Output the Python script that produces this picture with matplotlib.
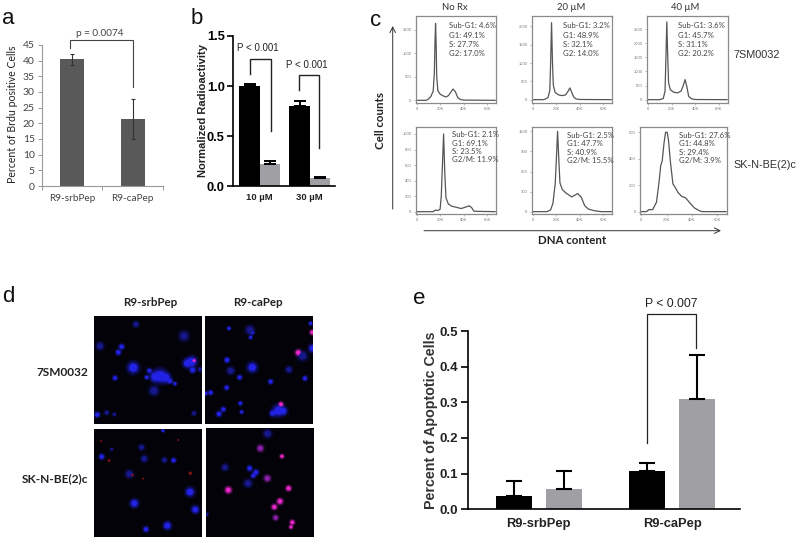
import matplotlib
matplotlib.use("Agg")
import matplotlib.pyplot as plt

W, H = 798, 541
plt.rcParams['font.family'] = ['Liberation Sans', 'DejaVu Sans']
fig = plt.figure(figsize=(W / 100, H / 100), dpi=100)

# ---------- data ----------
a_labels = ['R9-srbPep', 'R9-caPep']
a_values = [40.4, 21.4]
a_err_low = [1.8, 6.4]
a_err_high = [1.6, 6.4]
a_ticks = list(range(0, 50, 5))

b_labels = ['10 µM', '30 µM']
b_black = [1.0, 0.80]
b_black_err = [0.02, 0.05]
b_gray = [0.22, 0.085]
b_gray_err = [0.03, 0.01]
b_ticks = [0.0, 0.5, 1.0, 1.5]

e_labels = ['R9-srbPep', 'R9-caPep']
e_black = [0.037, 0.107]
e_black_err = [0.041, 0.023]
e_gray = [0.056, 0.309]
e_gray_err = [0.051, 0.123]
e_ticks = [0.0, 0.1, 0.2, 0.3, 0.4, 0.5]

c_titles = ['No Rx', '20 µM', '40 µM']
c_rows = ['7SM0032', 'SK-N-BE(2)c']
c_xticks = [0, 20, 40, 60]
c_xticklabels = ['0', '20K', '40K', '60K']

h11_x = [0, 8, 10, 12, 14, 15, 15.5, 16, 16.5, 17, 18, 20, 22, 25, 27, 29, 31, 33, 35, 37, 40, 67]
h11_y = [0, 0, 30, 80, 200, 600, 1200, 1630, 1200, 500, 200, 130, 100, 70, 100, 170, 240, 180, 60, 20, 5, 0]
h12_x = [0, 9, 11, 13, 14.5, 15.2, 16, 16.8, 17.5, 19, 22, 25, 28, 30, 31.7, 33, 35, 37, 40, 67]
h12_y = [0, 0, 20, 60, 250, 1000, 2100, 1000, 400, 200, 130, 110, 130, 220, 320, 220, 70, 20, 5, 0]
h13_x = [0, 10, 13, 14.5, 15.2, 16, 16.8, 17.5, 19, 22, 25, 28, 29.5, 31.5, 33, 34.5, 37, 40, 67]
h13_y = [0, 0, 40, 300, 1400, 2750, 1500, 600, 350, 260, 240, 300, 450, 710, 450, 120, 30, 5, 0]
h21_x = [0, 14, 16, 18, 20, 21, 22, 23, 24, 25, 27, 30, 33, 38, 42, 45, 47, 49, 67]
h21_y = [0, 0, 20, 15, 30, 200, 600, 1000, 500, 180, 100, 70, 60, 40, 60, 75, 50, 5, 0]
h22_x = [0, 12, 15, 17, 19, 20, 21, 22, 23, 25, 28, 33, 36, 38, 41, 44, 47, 52, 58, 67]
h22_y = [0, 0, 25, 120, 420, 800, 1200, 800, 430, 330, 280, 220, 250, 270, 220, 90, 40, 15, 0, 0]
h23_x = [0, 4, 6, 9, 12, 14, 15.4, 16.5, 18, 19.2, 20.5, 21.5, 23, 25, 26, 27, 29, 32, 35, 38, 42, 46, 48, 67]
h23_y = [0, 0, 15, 15, 70, 220, 350, 380, 520, 600, 600, 540, 380, 210, 195, 180, 145, 115, 105, 70, 28, 6, 0, 0]

hist_x = [[h11_x, h12_x, h13_x], [h21_x, h22_x, h23_x]]
hist_y = [[h11_y, h12_y, h13_y], [h21_y, h22_y, h23_y]]
hist_text = [
    [['Sub-G1: 4.6%', 'G1: 49.1%', 'S: 27.7%', 'G2: 17.0%'],
     ['Sub-G1: 3.2%', 'G1: 48.9%', 'S: 32.1%', 'G2: 14.0%'],
     ['Sub-G1: 3.6%', 'G1: 45.7%', 'S: 31.1%', 'G2: 20.2%']],
    [['Sub-G1: 2.1%', 'G1: 69.1%', 'S: 23.5%', 'G2/M: 11.9%'],
     ['Sub-G1: 2.5%', 'G1: 47.7%', 'S: 40.9%', 'G2/M: 15.5%'],
     ['Sub-G1: 27.6%', 'G1: 44.8%', 'S: 29.4%', 'G2/M: 3.9%']],
]
hist_yticks = [
    [[0, 500, 1000, 1500], [0, 500, 1000, 1500, 2000], [0, 500, 1000, 1500, 2000, 2500]],
    [[0, 200, 400, 600, 800, 1000], [0, 300, 600, 900, 1200], [0, 200, 400, 600]],
]
hist_ylim = [
    [(-57, 1790), (-91, 2282), (-118, 2960)],
    [(-30, 1090), (-35, 1265), (-18, 640)],
]

d_cols = ['R9-srbPep', 'R9-caPep']
d_rows = ['7SM0032', 'SK-N-BE(2)c']
# spots: x, y, size, colour key (read in picture units of each micrograph)
d_p1 = [(400, 263, 40, 'b'), (480, 288, 60, 'b'), (465, 290, 30, 'b'), (497, 293, 30, 'b'), (510, 303, 10, 'b'),
        (525, 311, 5, 'b'), (575, 245, 35, 'b'), (562, 250, 25, 'b'), (578, 270, 12, 'b'), (552, 168, 30, 'd'),
        (365, 200, 10, 'b'), (355, 217, 10, 'b'), (345, 294, 8, 'b'), (462, 332, 30, 'd'), (440, 292, 6, 'b'),
        (292, 404, 10, 'b'), (448, 272, 8, 'b'), (600, 268, 8, 'd'), (582, 242, 5, 'm'), (408, 133, 12, 'd'),
        (300, 198, 20, 'd'), (320, 398, 8, 'd'), (343, 403, 5, 'd'), (582, 400, 8, 'd')]
d_p2 = [(687, 145, 5, 'b'), (757, 158, 5, 'b'), (752, 172, 5, 'b'), (681, 240, 10, 'b'), (692, 272, 20, 'd'),
        (757, 262, 30, 'b'), (719, 292, 8, 'b'), (812, 305, 8, 'b'), (680, 323, 8, 'b'), (632, 338, 8, 'b'),
        (617, 340, 6, 'b'), (867, 269, 15, 'd'), (915, 295, 8, 'b'), (895, 218, 12, 'm'), (937, 157, 8, 'm'),
        (938, 205, 20, 'b'), (932, 130, 5, 'b'), (721, 370, 6, 'b'), (725, 396, 5, 'b'), (670, 388, 8, 'b'),
        (657, 402, 10, 'b'), (843, 373, 8, 'm'), (835, 392, 40, 'b'), (850, 393, 20, 'b'), (818, 400, 12, 'b'),
        (750, 150, 25, 'd'), (908, 228, 30, 'd')]
d_p3 = [(305, 530, 10, 'b'), (335, 508, 4, 'd'), (425, 502, 12, 'd'), (433, 536, 15, 'd'), (493, 540, 10, 'd'),
        (521, 541, 8, 'b'), (388, 582, 20, 'd'), (397, 585, 2, 'r'), (571, 580, 3, 'r'), (570, 636, 25, 'b'),
        (403, 670, 22, 'b'), (586, 689, 18, 'b'), (438, 748, 10, 'b'), (502, 737, 20, 'b'), (489, 452, 4, 'b'),
        (327, 542, 2, 'r'), (430, 596, 1, 'r'), (535, 480, 1, 'r'), (303, 483, 1, 'r')]
d_p4 = [(803, 461, 22, 'd'), (781, 505, 15, 'v'), (846, 529, 6, 'm'), (749, 565, 10, 'b'), (768, 577, 10, 'b'),
        (760, 587, 8, 'b'), (802, 595, 15, 'v'), (744, 610, 22, 'd'), (675, 562, 15, 'd'), (685, 630, 14, 'm'),
        (866, 625, 10, 'm'), (840, 664, 12, 'm'), (823, 681, 10, 'm'), (827, 713, 10, 'v'), (877, 727, 8, 'm'),
        (873, 741, 5, 'm'), (620, 703, 5, 'd')]

# ---------- helpers ----------
def axpx(x0, y0, x1, y1, **kw):
    return fig.add_axes([x0 / W, 1 - y1 / H, (x1 - x0) / W, (y1 - y0) / H], **kw)

def T(x, y, s, **kw):
    kw.setdefault('ha', 'center')
    kw.setdefault('va', 'center')
    return fig.text(x / W, 1 - y / H, s, **kw)

over = axpx(0, 0, W, H)
over.set_xlim(0, W)
over.set_ylim(H, 0)
over.axis('off')
over.set_zorder(5)

def bracket(pts, color='#222222', lw=1.0):
    over.plot([p[0] for p in pts], [p[1] for p in pts], color=color, lw=lw, solid_joinstyle='miter')

LATO = ['Lato', 'DejaVu Sans']

# ---------- panel letters ----------
for x, y, s in [(8, 18, 'a'), (197, 18, 'b'), (376, 20, 'c'), (8, 297, 'd'), (419, 298, 'e')]:
    T(x, y, s, fontsize=16, color='#111111')

# ---------- panel a ----------
ax = axpx(41.7, 45, 163, 186)
ax.bar([0.5, 1.5], a_values, width=0.395, color='#595959')
ax.errorbar([0.5, 1.5], a_values, yerr=[a_err_low, a_err_high], fmt='none', ecolor='#333333', elinewidth=0.8, capsize=1.5, capthick=0.8)
ax.set_xlim(0, 2)
ax.set_ylim(0, 45)
ax.set_yticks(a_ticks)
ax.set_xticks([0, 1, 2], minor=False)
ax.set_xticklabels([])
ax.tick_params(axis='both', length=3, width=0.7, color='#999999', labelsize=7.5, labelcolor='#444444', pad=2)
for lab in ax.get_yticklabels():
    lab.set_family(LATO)
for s in ['top', 'right']:
    ax.spines[s].set_visible(False)
for s in ['left', 'bottom']:
    ax.spines[s].set_color('#999999')
    ax.spines[s].set_linewidth(0.8)
ax.patch.set_alpha(0)
for xc, lab in zip([72, 132.7], a_labels):
    T(xc, 198.5, lab, fontsize=7.2, color='#444444', family=LATO)
T(13, 114, 'Percent of Brdu positive Cells', rotation=90, fontsize=7.6, color='#222222', family=LATO)
bracket([(70, 48), (70, 40), (132.7, 40), (132.7, 87)], color='#444444', lw=0.8)
T(99.5, 33, 'p = 0.0074', fontsize=7.2, color='#444444', family=LATO)

# ---------- panel b ----------
ax = axpx(233, 36, 335, 186.3)
xb = [239.3 + 10.3, 289 + 10.5]
xg = [270, 320]
ax.bar(xb, b_black, width=20.5, color='black')
ax.bar(xg, b_gray, width=20.5, color='#a0a0a4')
ax.errorbar(xb, b_black, yerr=[[0, 0], b_black_err], fmt='none', ecolor='black', elinewidth=1.4, capsize=4, capthick=1.4)
ax.errorbar(xg, b_gray, yerr=[[0, 0], b_gray_err], fmt='none', ecolor='black', elinewidth=1.4, capsize=4, capthick=1.4)
ax.set_xlim(233, 335)
ax.set_ylim(0, 1.5)
ax.set_yticks(b_ticks)
ax.set_yticklabels([f'{v:.1f}' for v in b_ticks], fontweight='bold')
ax.set_xticks([])
ax.tick_params(axis='y', length=4, width=1.2, labelsize=9.3, pad=2)
for s in ['top', 'right']:
    ax.spines[s].set_visible(False)
for s in ['left', 'bottom']:
    ax.spines[s].set_linewidth(1.2)
ax.patch.set_alpha(0)
for xc, lab in zip([259.5, 309.5], b_labels):
    T(xc, 197.5, lab, fontsize=6.8, fontweight='bold', color='#222222')
T(202.5, 111, 'Normalized Radioactivity', rotation=90, fontsize=8, fontweight='bold', color='#222222')
bracket([(250, 74), (250, 59), (270.7, 59), (270.7, 131)])
bracket([(298.7, 90), (298.7, 75), (319.3, 75), (319.3, 147.7)])
T(258, 48, 'P < 0.001', fontsize=7, color='#222222')
T(307, 64.7, 'P < 0.001', fontsize=7, color='#222222')

# ---------- panel c ----------
boxes = [
    [(415.7, 16, 495.7, 103), (531.7, 16, 611.7, 103), (646.7, 16, 727.7, 103)],
    [(415.5, 127, 495.7, 214), (531.7, 127, 612.3, 214), (640, 127, 726.7, 214)],
]
text_pos = [
    [(448.7, [25.3, 35, 44.3, 53.7]), (562.7, [25.3, 35, 44.3, 53.7]), (677.7, [25.3, 35, 44.3, 53.7])],
    [(452.3, [134.7, 143, 151.7, 160]), (567, [135.5, 144, 152.3, 160.5]), (679, [135.5, 144, 152.3, 160.5])],
]
for r in range(2):
    for c in range(3):
        ax = axpx(*boxes[r][c])
        ax.plot(hist_x[r][c], hist_y[r][c], color='#555555', lw=0.9)
        ax.set_xlim(-1, 67.5)
        ax.set_ylim(*hist_ylim[r][c])
        ax.set_xticks(c_xticks)
        ax.set_xticklabels(c_xticklabels)
        ax.set_yticks(hist_yticks[r][c])
        ax.tick_params(length=1.5, width=0.4, labelsize=3, labelcolor='#777777', color='#888888', pad=1.5)
        for s in ax.spines.values():
            s.set_color('#8a8a8a')
            s.set_linewidth(0.9)
        tx, tys = text_pos[r][c]
        for ty, line in zip(tys, hist_text[r][c]):
            T(tx, ty, line, ha='left', fontsize=5.6, color='#444444', family=LATO)
for xc, t in zip([455, 571, 685], c_titles):
    T(xc, 8, t, fontsize=6.8, color='#333333', family=LATO)
T(733, 55, c_rows[0], ha='left', fontsize=7.8, color='#333333')
T(733, 165, c_rows[1], ha='left', fontsize=7.8, color='#333333')
T(380, 121, 'Cell counts', rotation=90, fontsize=8.3, fontweight='bold', color='#222222', family=LATO)
T(572, 241, 'DNA content', fontsize=8.3, fontweight='bold', color='#222222', family=LATO)
over.annotate('', xy=(392.7, 26), xytext=(392.7, 209), arrowprops=dict(arrowstyle='->', color='#333333', lw=0.7, shrinkA=0, shrinkB=0))
over.annotate('', xy=(721, 230.7), xytext=(424, 230.7), arrowprops=dict(arrowstyle='->', color='#333333', lw=0.7, shrinkA=0, shrinkB=0))

# ---------- panel d ----------
spot_colors = {'b': '#2222e6', 'd': '#17178c', 'm': '#e626c8', 'v': '#8a1fa8', 'r': '#a01818'}
panels = [
    ((94, 315.7, 202.3, 424), (282, 607, 432, 107), d_p1),
    ((205, 315.7, 313.3, 424), (615, 940, 432, 107), d_p2),
    ((94, 429, 202.3, 537.3), (282, 607, 772, 447), d_p3),
    ((206, 428.3, 314.3, 536.7), (618, 943, 770, 445), d_p4),
]
for box, lim, spots in panels:
    ax = axpx(*box)
    ax.set_facecolor('#020208')
    for scale, alpha in [(4.0, 0.18), (2.2, 0.35), (1.0, 1.0)]:
        ax.scatter([s[0] for s in spots], [s[1] for s in spots],
                   s=[s[2] * scale * 0.9 for s in spots],
                   c=[spot_colors[s[3]] for s in spots], alpha=alpha, linewidths=0)
    ax.set_xlim(lim[0], lim[1])
    ax.set_ylim(lim[2], lim[3])
    ax.set_xticks([])
    ax.set_yticks([])
    for s in ax.spines.values():
        s.set_visible(False)
T(150.5, 302.5, d_cols[0], fontsize=8.3, fontweight='bold', color='#222222', family=LATO)
T(258, 302.5, d_cols[1], fontsize=8.3, fontweight='bold', color='#222222', family=LATO)
T(88.5, 372, d_rows[0], ha='right', fontsize=8.6, fontweight='bold', color='#222222', family=LATO)
T(88.5, 479, d_rows[1], ha='right', fontsize=8.6, fontweight='bold', color='#222222', family=LATO)

# ---------- panel e ----------
ax = axpx(468, 331, 740, 509.3)
xb = [514, 647.3]
xg = [564, 697.3]
ax.bar(xb, e_black, width=36, color='black')
ax.bar(xg, e_gray, width=36, color='#a0a0a4')
ax.errorbar(xb, e_black, yerr=[[0, 0], e_black_err], fmt='none', ecolor='black', elinewidth=1.5, capsize=5.5, capthick=1.5)
ax.errorbar(xg, e_gray, yerr=[[0, 0], e_gray_err], fmt='none', ecolor='black', elinewidth=1.5, capsize=5.5, capthick=1.5)
ax.set_xlim(468, 740)
ax.set_ylim(0, 0.5)
ax.set_yticks(e_ticks)
ax.set_yticklabels([f'{v:.1f}' for v in e_ticks], fontweight='bold')
ax.set_xticks([])
ax.tick_params(axis='y', length=5, width=1.2, labelsize=9.5, pad=2, labelcolor='#222222')
for s in ['top', 'right']:
    ax.spines[s].set_visible(False)
for s in ['left', 'bottom']:
    ax.spines[s].set_linewidth(1.2)
ax.patch.set_alpha(0)
for xc, lab in zip([538, 672], e_labels):
    T(xc, 523.5, lab, fontsize=9.3, fontweight='bold', color='#222222')
T(431.5, 420, 'Percent of Apoptotic Cells', rotation=90, fontsize=10.3, fontweight='bold', color='#333333')
bracket([(647.3, 443), (647.3, 314), (695.7, 314), (695.7, 348)], lw=0.9)
T(671.7, 304, 'P < 0.007', fontsize=8.8, color='#222222')

fig.savefig('out.png', dpi=100, facecolor='white')
